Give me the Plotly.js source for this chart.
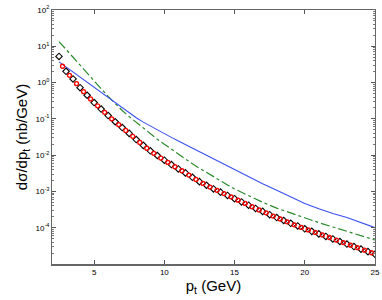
<!DOCTYPE html>
<html><head><meta charset="utf-8">
<script src="https://cdn.plot.ly/plotly-3.0.1.min.js"></script>
<style>html,body{margin:0;padding:0;background:#fff;}#chart{width:382px;height:300px;}</style>
</head><body><div id="chart"></div>
<script>
// data (dsigma/dpt in nb/GeV)
const blackX = [2.5,3.0,3.5,4.0,4.5,5.0,5.5,6.0,6.5,7.0,7.5,8.0,8.5,9.0,9.5,10.0,10.5,11.0,11.5,12.0,12.5,13.0,13.5,14.0,14.5,15.0,15.5,16.0,16.5,17.0,17.5,18.0,18.5,19.0,19.5,20.0,20.5,21.0,21.5,22.0,22.5,23.0,23.5,24.0,24.5,25.0];
const blackY = [5.25,2.04,1.26,0.724,0.447,0.282,0.186,0.123,0.0832,0.0575,0.0398,0.0269,0.0186,0.0132,0.00977,0.00724,0.00550,0.00417,0.00324,0.00245,0.00186,0.00148,0.00117,0.000955,0.000776,0.000631,0.000513,0.000417,0.000339,0.000282,0.000229,0.000191,0.000158,0.000132,0.000112,0.0000933,0.0000794,0.0000676,0.0000575,0.0000490,0.0000417,0.0000355,0.0000302,0.0000257,0.0000219,0.0000186];
const redX = [2.75,3.25,3.75,4.25,4.75,5.25,5.75,6.25,6.75,7.25,7.75,8.25,8.75,9.25,9.75,10.25,10.75,11.25,11.75,12.25,12.75,13.25,13.75,14.25,14.75,15.25,15.75,16.25,16.75,17.25,17.75,18.25,18.75,19.25,19.75,20.25,20.75,21.25,21.75,22.25,22.75,23.25,23.75,24.25,24.75];
const redY = [2.82,1.58,0.933,0.562,0.355,0.229,0.151,0.100,0.0692,0.0479,0.0331,0.0224,0.0155,0.0112,0.00832,0.00631,0.00479,0.00372,0.00282,0.00214,0.00166,0.00132,0.00107,0.000871,0.000708,0.000575,0.000468,0.000380,0.000309,0.000257,0.000209,0.000174,0.000145,0.000120,0.000102,0.0000871,0.0000741,0.0000631,0.0000537,0.0000457,0.0000389,0.0000331,0.0000282,0.0000240,0.0000204];
const lineX = [2.5,3,3.5,4,4.5,5,5.5,6,6.5,7,7.5,8,8.5,9,9.5,10,10.5,11,11.5,12,12.5,13,13.5,14,14.5,15,16,17,18,19,20,21,22,23,24,25];
const blueY = [3.72,2.69,1.95,1.41,1.02,0.724,0.525,0.372,0.269,0.195,0.145,0.107,0.0813,0.0631,0.0490,0.0389,0.0309,0.0245,0.0195,0.0155,0.0123,0.00977,0.00776,0.00617,0.00490,0.00389,0.00245,0.00162,0.00107,0.000708,0.000468,0.000331,0.000245,0.000191,0.000138,0.000100];
const greenY = [13.5,8.13,4.90,2.95,1.78,1.10,0.676,0.417,0.263,0.170,0.115,0.0794,0.0550,0.0389,0.0275,0.0200,0.0145,0.0105,0.00776,0.00575,0.00437,0.00331,0.00251,0.00195,0.00151,0.00117,0.000759,0.000501,0.000347,0.000251,0.000186,0.000138,0.000105,0.0000794,0.0000603,0.0000457];
const xTicks = [5,10,15,20,25];
const yTickVals = [1e-4,1e-3,1e-2,1e-1,1,10,100];
const yTickText = ['10<sup>-4</sup>','10<sup>-3</sup>','10<sup>-2</sup>','10<sup>-1</sup>','10<sup>0</sup>','10<sup>1</sup>','10<sup>2</sup>'];

const traces = [
  {x: lineX, y: greenY, mode:'lines', line:{color:'#2a8a2a', width:1.2, dash:'dashdot'}, hoverinfo:'none'},
  {x: lineX, y: blueY, mode:'lines', line:{color:'#3a50f0', width:1.1}, hoverinfo:'none'},
  {x: blackX, y: blackY, mode:'markers', marker:{symbol:'diamond-open', size:5, color:'#000', line:{width:1.1, color:'#000'}}, hoverinfo:'none'},
  {x: redX, y: redY, mode:'markers', marker:{symbol:'circle-open', size:4, color:'#ff0000', line:{width:1.3, color:'#ff0000'}}, hoverinfo:'none'}
];
const layout = {
  width:382, height:300,
  margin:{l:52, r:7, t:10, b:36},
  paper_bgcolor:'#fff', plot_bgcolor:'#fff',
  showlegend:false,
  font:{family:'Liberation Sans, Arial, sans-serif', color:'#000'},
  xaxis:{
    range:[2,25], tickvals:xTicks, ticks:'inside', ticklen:4, tickcolor:'#555',
    showline:true, mirror:'ticks', linecolor:'#666', linewidth:1.5,
    showgrid:false, zeroline:false, tickfont:{size:8}, ticklabelstandoff:0,
    title:{text:'p<sub>t</sub> (GeV)', font:{size:15}, standoff:4}
  },
  yaxis:{
    type:'log', range:[-5,2], tickvals:yTickVals, ticktext:yTickText,
    ticks:'inside', ticklen:4, tickcolor:'#555',
    minor:{ticks:'inside', ticklen:2, tickcolor:'#777', dtick:'D1', showgrid:false},
    showline:true, mirror:'ticks', linecolor:'#666', linewidth:1,
    showgrid:false, zeroline:false, tickfont:{size:8},
    title:{text:'dσ/dp<sub>t</sub> (nb/GeV)', font:{size:15}, standoff:4}
  }
};
Plotly.newPlot('chart', traces, layout, {staticPlot:true, displayModeBar:false});
</script></body></html>
